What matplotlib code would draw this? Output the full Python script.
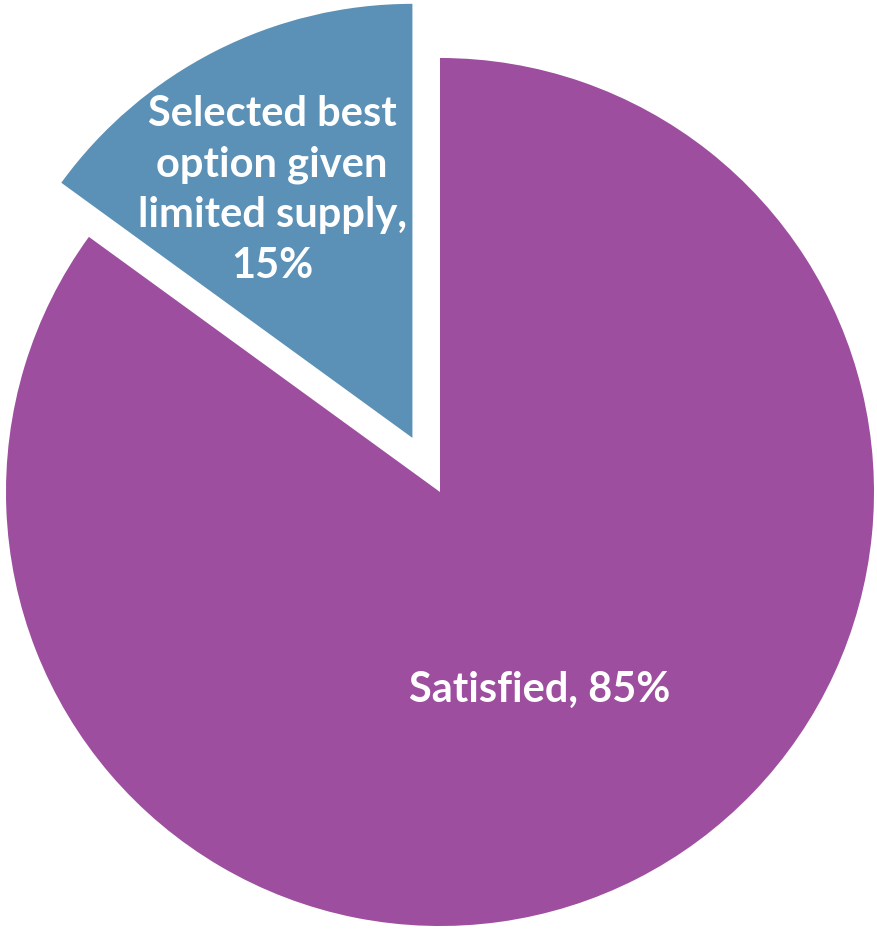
import matplotlib
matplotlib.use('Agg')
import matplotlib.pyplot as plt

labels = ['Satisfied, 85%', 'Selected best\noption given\nlimited supply,\n15%']
values = [85, 15]
colors = ['#9D4E9F', '#5B91B6']
explode = [0, 0.14]

fig = plt.figure(figsize=(8.78, 9.32), dpi=100)
ax = fig.add_axes([0, 0, 1, 1])
ax.pie(values, colors=colors, explode=explode, startangle=90,
       counterclock=False, radius=1.0)
ax.set_xlim(-1.0138, 1.0092)
ax.set_ylim(-1.0138, 1.1336)
ax.set_aspect('auto')
ax.axis('off')

txt = dict(color='white', fontweight='bold', family=['Lato', 'DejaVu Sans'],
           fontsize=30, ha='center', va='center')
ax.text(0.23, -0.456, labels[0], **txt)
ax.text(-0.387, 0.696, labels[1], linespacing=1.4, **txt)

fig.savefig('out.png', dpi=100)
